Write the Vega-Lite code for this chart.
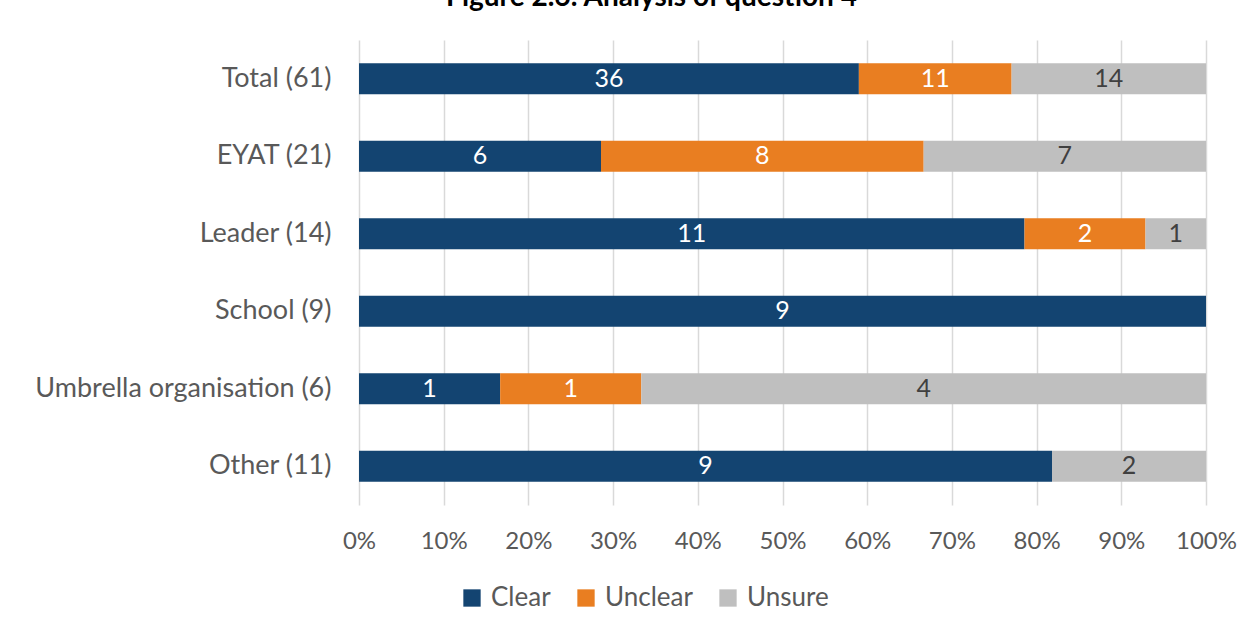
{
  "$schema": "https://vega.github.io/schema/vega-lite/v6.json",
  "width": 847,
  "height": 465,
  "autosize": {"type": "none"},
  "padding": {"left": 359, "top": 40, "right": 47, "bottom": 125},
  "background": "white",
  "title": {
    "text": "Figure 2.6: Analysis of question 4",
    "anchor": "middle",
    "baseline": "alphabetic",
    "offset": 6,
    "dx": -131,
    "font": "Lato",
    "fontSize": 28,
    "fontWeight": "bold",
    "color": "#000000"
  },
  "config": {
    "view": {"stroke": null},
    "font": "Lato"
  },
  "data": {
    "values": [
      {"cat": "Total (61)", "resp": "Clear", "ord": 1, "count": 36},
      {"cat": "Total (61)", "resp": "Unclear", "ord": 2, "count": 11},
      {"cat": "Total (61)", "resp": "Unsure", "ord": 3, "count": 14},
      {"cat": "EYAT (21)", "resp": "Clear", "ord": 1, "count": 6},
      {"cat": "EYAT (21)", "resp": "Unclear", "ord": 2, "count": 8},
      {"cat": "EYAT (21)", "resp": "Unsure", "ord": 3, "count": 7},
      {"cat": "Leader (14)", "resp": "Clear", "ord": 1, "count": 11},
      {"cat": "Leader (14)", "resp": "Unclear", "ord": 2, "count": 2},
      {"cat": "Leader (14)", "resp": "Unsure", "ord": 3, "count": 1},
      {"cat": "School (9)", "resp": "Clear", "ord": 1, "count": 9},
      {"cat": "Umbrella organisation (6)", "resp": "Clear", "ord": 1, "count": 1},
      {"cat": "Umbrella organisation (6)", "resp": "Unclear", "ord": 2, "count": 1},
      {"cat": "Umbrella organisation (6)", "resp": "Unsure", "ord": 3, "count": 4},
      {"cat": "Other (11)", "resp": "Clear", "ord": 1, "count": 9},
      {"cat": "Other (11)", "resp": "Unsure", "ord": 3, "count": 2}
    ]
  },
  "transform": [
    {"stack": "count", "groupby": ["cat"], "sort": [{"field": "ord", "order": "ascending"}], "offset": "normalize", "as": ["x0", "x1"]},
    {"calculate": "(datum.x0 + datum.x1) / 2", "as": "mid"}
  ],
  "encoding": {
    "y": {
      "field": "cat",
      "type": "nominal",
      "sort": ["Total (61)", "EYAT (21)", "Leader (14)", "School (9)", "Umbrella organisation (6)", "Other (11)"],
      "scale": {"paddingInner": 0.6, "paddingOuter": 0.3},
      "axis": {
        "title": null,
        "ticks": false,
        "domain": false,
        "grid": false,
        "labelPadding": 28,
        "labelFontSize": 27,
        "labelColor": "#595959",
        "labelFont": "Lato",
        "labelLimit": 400
      }
    }
  },
  "layer": [
    {
      "mark": {"type": "bar"},
      "encoding": {
        "x": {
          "field": "x0",
          "type": "quantitative",
          "scale": {"domain": [0, 1], "nice": false},
          "axis": {
            "title": null,
            "format": ".0%",
            "values": [0, 0.1, 0.2, 0.3, 0.4, 0.5, 0.6, 0.7, 0.8, 0.9, 1],
            "ticks": false,
            "domain": false,
            "grid": true,
            "gridColor": "#d9d9d9",
            "gridWidth": 1.5,
            "labelFlush": false,
            "labelPadding": 24,
            "labelFontSize": 24,
            "labelColor": "#595959",
            "labelFont": "Lato"
          }
        },
        "x2": {"field": "x1"},
        "color": {
          "field": "resp",
          "type": "nominal",
          "scale": {"domain": ["Clear", "Unclear", "Unsure"], "range": ["#134471", "#e97e21", "#bfbfbf"]},
          "legend": {
            "title": null,
            "orient": "none",
            "direction": "horizontal",
            "legendX": 100,
            "legendY": 545,
            "symbolType": "square",
            "symbolSize": 300,
            "symbolStrokeWidth": 0,
            "labelFontSize": 26,
            "labelColor": "#595959",
            "labelFont": "Lato",
            "columnPadding": 22,
            "labelOffset": 6
          }
        }
      }
    },
    {
      "mark": {"type": "text", "fontSize": 25, "font": "Lato", "baseline": "middle", "align": "center"},
      "encoding": {
        "x": {"field": "mid", "type": "quantitative"},
        "text": {"field": "count", "type": "quantitative"},
        "color": {
          "condition": {"test": "datum.resp === 'Unsure'", "value": "#404040"},
          "value": "#ffffff"
        }
      }
    }
  ]
}
